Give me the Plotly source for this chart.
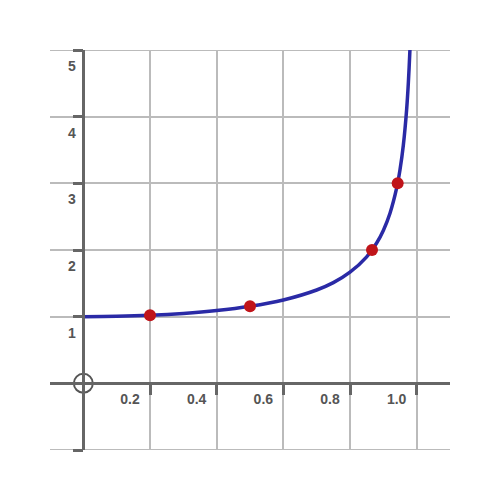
import plotly.graph_objects as go

# Curve values (speed fraction v, Lorentz factor gamma)
curve_v = [0.0, 0.1, 0.2, 0.3, 0.4, 0.5, 0.6, 0.7, 0.75, 0.8, 0.85, 0.88, 0.9,
           0.92, 0.94, 0.95, 0.96, 0.97, 0.975, 0.98, 0.982]
curve_gamma = [1.0, 1.005, 1.02, 1.048, 1.091, 1.155, 1.25, 1.40, 1.51, 1.667,
               1.898, 2.105, 2.294, 2.552, 2.931, 3.203, 3.571, 4.113, 4.502,
               5.025, 5.30]

# Highlighted points
pt_v = [0.2, 0.5, 0.866, 0.943]
pt_gamma = [1.02, 1.155, 2.0, 3.0]

# Tick labels
x_tickvals = [0.2, 0.4, 0.6, 0.8, 1.0]
x_ticktext = ["0.2", "0.4", "0.6", "0.8", "1.0"]
y_tickvals = [-1, 0, 1, 2, 3, 4, 5]
y_ticktext = ["", "", "1", "2", "3", "4", "5"]

origin_x = [0]
origin_y = [0]

x_range = [-0.1, 1.1]
y_range = [-1, 5]

axis_color = "#666666"
grid_color = "#bbbbbb"

fig = go.Figure()
fig.add_trace(go.Scatter(x=curve_v, y=curve_gamma, mode="lines",
                         line=dict(color="#2a2aa6", width=3.5, shape="spline"),
                         hoverinfo="skip"))
fig.add_trace(go.Scatter(x=pt_v, y=pt_gamma, mode="markers",
                         marker=dict(color="#c0141a", size=12),
                         cliponaxis=False))
fig.add_trace(go.Scatter(x=origin_x, y=origin_y, mode="markers",
                         marker=dict(symbol="circle-open", size=19,
                                     color="#555555", line=dict(width=2)),
                         cliponaxis=False))

# grid lines lying on the range edges (plotly omits those)
for yv in (y_range[0], y_range[1]):
    fig.add_shape(type="line", xref="paper", yref="y", x0=0, x1=1,
                  y0=yv, y1=yv, layer="below",
                  line=dict(color=grid_color, width=2))

tick_font = dict(family="Liberation Sans, Arial, sans-serif", size=14,
                 color="#555555", weight="bold")

x_pos = (0 - x_range[0]) / (x_range[1] - x_range[0])
y_pos = (0 - y_range[0]) / (y_range[1] - y_range[0])

fig.update_layout(
    width=500, height=500,
    margin=dict(l=50, r=50, t=50, b=50, autoexpand=False),
    paper_bgcolor="white", plot_bgcolor="rgba(0,0,0,0)",
    showlegend=False,
    xaxis=dict(range=x_range, tickvals=x_tickvals, ticktext=x_ticktext,
               showgrid=True, gridcolor=grid_color, gridwidth=2,
               zeroline=False, showline=True, linecolor=axis_color,
               linewidth=2.5, ticks="outside", ticklen=10, tickwidth=2.5,
               tickcolor=axis_color, tickfont=tick_font, automargin=False,
               anchor="free", position=y_pos, ticklabelshift=-20,
               ticklabelstandoff=-8, fixedrange=True),
    yaxis=dict(range=y_range, tickvals=y_tickvals, ticktext=y_ticktext,
               showgrid=True, gridcolor=grid_color, gridwidth=2,
               zeroline=False, showline=True, linecolor=axis_color,
               linewidth=2.5, ticks="outside", ticklen=10, tickwidth=2.5,
               tickcolor=axis_color, tickfont=tick_font, automargin=False,
               anchor="free", position=x_pos, ticklabelshift=16,
               ticklabelstandoff=-6, fixedrange=True),
)

fig.write_html("out.html", config={"displayModeBar": False},
               post_script="document.body.style.margin='0';")
